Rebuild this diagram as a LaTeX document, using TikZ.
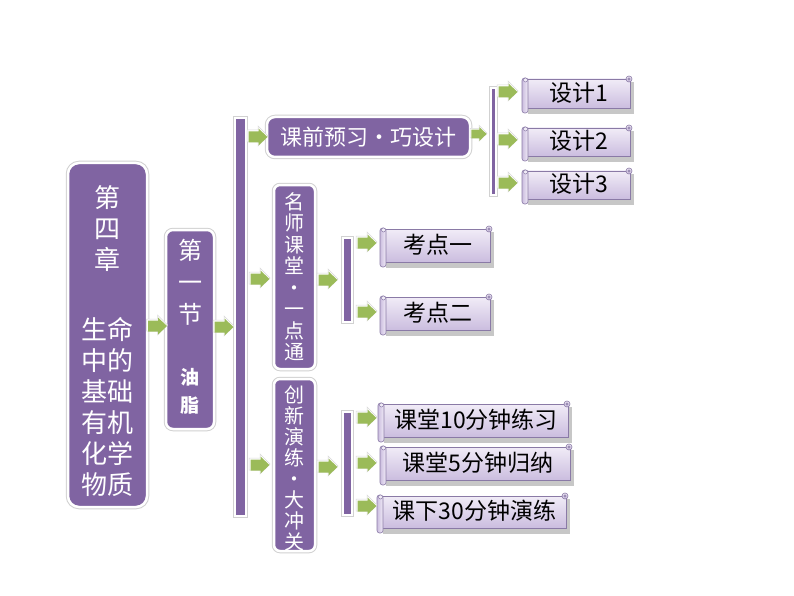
\documentclass[tikz,border=0pt]{standalone}
\usepackage{fontspec}
\newfontfamily\cjk{Noto Sans CJK SC}
\usetikzlibrary{calc}
\definecolor{pbox}{HTML}{8064A2}
\definecolor{garr}{HTML}{9BBB59}
\definecolor{stop}{HTML}{F1ECF7}
\definecolor{sbot}{HTML}{CBBDDF}
\definecolor{sline}{HTML}{8A7AA6}
\tikzset{
 pbox/.style={fill=pbox, draw=white, line width=2.5pt, preaction={draw=black!18, line width=4.5pt}, inner sep=0pt},
 pbar/.style={fill=pbox, draw=white, line width=2pt, preaction={draw=black!18, line width=3.6pt}, inner sep=0pt},
 wtext/.style={text=white, inner sep=0pt, align=center},
 stext/.style={text=black, inner sep=0pt, font=\cjk\fontsize{23}{25}\selectfont},
 garrow/.pic={
   \fill[white, draw=black!15, line width=0.5pt] (-11,-7)--(0,-7)--(0,-11)--(10,-1)--(0,9)--(0,5)--(-11,5)--cycle;
   \fill[garr] (-9.5,-5.5)--(0.5,-5.5)--(0.5,-8.5)--(9.5,0)--(0.5,8.5)--(0.5,5.5)--(-9.5,5.5)--cycle;
 }
}
\newcommand\myscroll[6]{%
 \fill[black!22] ({#2+6},{#3+7}) rectangle ({#4+1.5},{#5+1});
 \shade[top color=stop,bottom color=sbot,draw=sline,line width=0.6pt] ({#2+4},{#3+4}) rectangle ({#4-2},{#5-5});
 \shade[top color=stop,bottom color=sbot,draw=sline,line width=0.6pt] ({#4-3},{#3+4}) circle (3pt);
 \draw[sline,line width=0.5pt,fill=sbot] ({#4-3},{#3+4}) circle (1.2pt);
 \shade[left color=sbot,right color=stop,draw=sline,line width=0.6pt,rounded corners=2.5pt] (#2,{#3+3}) rectangle ({#2+6},#5);
 \draw[sline,line width=0.5pt,fill=stop] ({#2+3.5},{#3+5}) circle (2pt);
 \node[stext] (#1) at ({(#2+#4)/2+2},{(#3+#5)/2-1.5}) {#6};
}
\begin{document}
\begin{tikzpicture}[x=1pt,y=-1pt]
\fill[white] (0,0) rectangle (794,596);
\useasboundingbox (0,0) rectangle (794,596);

% chapter box
\node[pbox, rounded corners=11pt, minimum width=79pt, minimum height=344pt] (ch) at (107.5,335) {};
\node[wtext, font=\cjk\fontsize{26}{31}\selectfont] (cht) at (107.5,341) {第\\四\\章\\[39pt]生命\\中的\\基础\\有机\\化学\\物质};

% section box
\node[pbox, rounded corners=7pt, minimum width=48pt, minimum height=199pt] (sec) at (190,329.5) {};
\node[wtext, font=\cjk\fontsize{24}{32}\selectfont] (sect1) at (190,282) {第\\一\\节};
\node[wtext, font=\cjk\bfseries\fontsize{19}{28}\selectfont] (sect2) at (190,391) {油\\脂};

% main bar
\node[pbar, minimum width=11pt, minimum height=398pt] (bar1) at (240.5,317) {};

% level 2 boxes
\node[pbox, rounded corners=8pt, minimum width=203pt, minimum height=40pt, font=\cjk\fontsize{22}{24}\selectfont, text=white] (pre) at (368.5,137) {课前预习•巧设计};
\node[pbox, rounded corners=6pt, minimum width=41pt, minimum height=184pt] (ms) at (294.5,277) {};
\node[wtext, font=\cjk\fontsize{20}{21.5}\selectfont] (mst) at (294.5,277) {名\\师\\课\\堂\\•\\一\\点\\通};
\node[pbox, rounded corners=6pt, minimum width=41pt, minimum height=172pt] (cx) at (294.5,465) {};
\node[wtext, font=\cjk\fontsize{20}{21}\selectfont] (cxt) at (294.5,468) {创\\新\\演\\练\\•\\大\\冲\\关};

% small bars
\node[pbar, minimum width=5pt, minimum height=107pt] (bar2) at (493.5,141.5) {};
\node[pbar, minimum width=9pt, minimum height=84pt] (bar3) at (347.5,280) {};
\node[pbar, minimum width=9pt, minimum height=103pt] (bar4) at (347.5,463.5) {};

% scrolls
\myscroll{s1}{522}{75}{632}{113}{设计1}
\myscroll{s2}{522}{124}{632}{161}{设计2}
\myscroll{s3}{522}{167}{632}{204}{设计3}
\myscroll{k1}{380}{225}{492}{267}{考点一}
\myscroll{k2}{380}{293}{492}{335}{考点二}
\myscroll{c1}{378}{400}{570}{442}{课堂10分钟练习}
\myscroll{c2}{380}{443}{572}{485}{课堂5分钟归纳}
\myscroll{c3}{377}{492}{568}{533}{课下30分钟演练}

% green arrows
\pic at (157.5,326) {garrow};
\pic at (224,327) {garrow};
\pic at (258,137) {garrow};
\pic at (260,279) {garrow};
\pic at (260,465) {garrow};
\pic[scale=0.8] at (479,134) {garrow};
\pic at (508,92) {garrow};
\pic at (508,140) {garrow};
\pic at (508,183) {garrow};
\pic at (328,280) {garrow};
\pic at (367,243) {garrow};
\pic at (367,312) {garrow};
\pic at (328,467) {garrow};
\pic at (367,418) {garrow};
\pic at (367,463) {garrow};
\pic at (367,506) {garrow};
\end{tikzpicture}
\end{document}
